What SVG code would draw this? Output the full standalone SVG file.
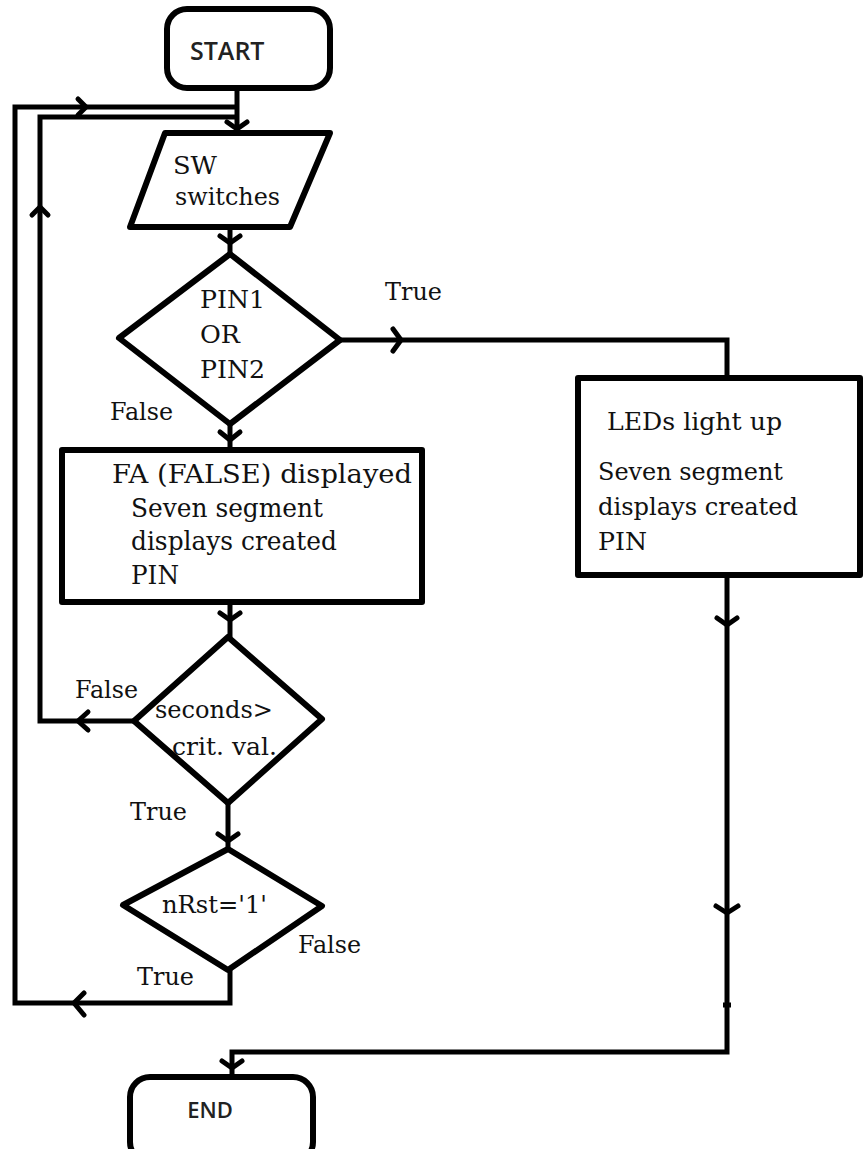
<svg xmlns="http://www.w3.org/2000/svg" width="863" height="1149" viewBox="0 0 863 1149">
<style>
.shape{fill:#fff;stroke:#000;stroke-width:6;stroke-linejoin:round}
.ln{fill:none;stroke:#000;stroke-width:5;stroke-linejoin:miter}
.chev{fill:none;stroke:#000;stroke-width:5;stroke-linecap:round;stroke-linejoin:round}
.t{font-family:'DejaVu Serif','Liberation Serif',serif;font-size:25px;fill:#111}
.b{font-size:26px}
.s{font-family:'Open Sans','Liberation Sans',sans-serif;font-weight:600;fill:#222}
</style>
<rect width="863" height="1149" fill="#fff"/>
<g id="connectors">
  <path class="ln" d="M237,88 L237,133"/>
  <path class="ln" d="M230,970 L230,1003 L15,1003 L15,107 L237,107"/>
  <path class="ln" d="M134,721 L40,721 L40,117 L237,117"/>
  <path class="ln" d="M230,227 L230,254"/>
  <path class="ln" d="M230,424 L230,450"/>
  <path class="ln" d="M230,602 L230,637"/>
  <path class="ln" d="M228,803 L228,849"/>
  <path class="ln" d="M340,340 L727,340 L727,378"/>
  <path class="ln" d="M727,575 L727,1052 L232,1052 L232,1077"/>
  <polyline class="chev" points="78,99 86,107 78,115"/>
  <polyline class="chev" points="227,122 237,129 247,122"/>
  <polyline class="chev" points="32,215 40,207 48,215"/>
  <polyline class="chev" points="220,236 230,243 240,236"/>
  <polyline class="chev" points="393,329 401,340 393,351"/>
  <polyline class="chev" points="220,432 230,440 240,432"/>
  <polyline class="chev" points="220,613 230,620 240,613"/>
  <polyline class="chev" points="88,712 78,721 88,730"/>
  <polyline class="chev" points="218,834 228,841 238,834"/>
  <polyline class="chev" points="84,993 74,1003 84,1015"/>
  <polyline class="chev" points="717,618 727,625 737,618"/>
  <polyline class="chev" points="716,906 727,913 738,906"/>
  <polyline class="chev" points="222,1061 232,1068 242,1061"/>
  <line x1="723" y1="1005" x2="731" y2="1005" stroke="#000" stroke-width="5"/>
</g>
<g id="start">
  <rect class="shape" x="167" y="9" width="163" height="79" rx="20"/>
  <text class="s" x="190" y="60" font-size="25">START</text>
</g>
<g id="input">
  <polygon class="shape" points="165,133 330,133 290,227 130,227"/>
  <text class="t" x="173" y="174" textLength="44" lengthAdjust="spacingAndGlyphs">SW</text>
  <text class="t" x="175" y="205" textLength="105" lengthAdjust="spacingAndGlyphs">switches</text>
</g>
<g id="decision1">
  <polygon class="shape" points="230,254 340,340 230,424 119,338"/>
  <text class="t" x="200" y="308" textLength="65" lengthAdjust="spacingAndGlyphs">PIN1</text>
  <text class="t" x="200" y="343" textLength="40" lengthAdjust="spacingAndGlyphs">OR</text>
  <text class="t" x="200" y="378" textLength="65" lengthAdjust="spacingAndGlyphs">PIN2</text>
  <text class="t" x="110" y="420" textLength="63" lengthAdjust="spacingAndGlyphs">False</text>
  <text class="t" x="385" y="300" textLength="57" lengthAdjust="spacingAndGlyphs">True</text>
</g>
<g id="led-box">
  <rect class="shape" x="578" y="378" width="282" height="197"/>
  <text class="t" x="607" y="430" textLength="175" lengthAdjust="spacingAndGlyphs">LEDs light up</text>
  <text class="t" x="598" y="480" textLength="185" lengthAdjust="spacingAndGlyphs">Seven segment</text>
  <text class="t" x="598" y="515" textLength="200" lengthAdjust="spacingAndGlyphs">displays created</text>
  <text class="t" x="598" y="550" textLength="49" lengthAdjust="spacingAndGlyphs">PIN</text>
</g>
<g id="fa-box">
  <rect class="shape" x="62" y="450" width="360" height="152"/>
  <text class="t b" x="112" y="483" textLength="300" lengthAdjust="spacingAndGlyphs">FA (FALSE) displayed</text>
  <text class="t b" x="131" y="517" textLength="192" lengthAdjust="spacingAndGlyphs">Seven segment</text>
  <text class="t b" x="131" y="550" textLength="206" lengthAdjust="spacingAndGlyphs">displays created</text>
  <text class="t b" x="131" y="584" textLength="48" lengthAdjust="spacingAndGlyphs">PIN</text>
</g>
<g id="decision2">
  <polygon class="shape" points="228,637 322,719 228,803 134,721"/>
  <text class="t" x="155" y="718" textLength="118" lengthAdjust="spacingAndGlyphs">seconds&gt;</text>
  <text class="t" x="172" y="755" textLength="105" lengthAdjust="spacingAndGlyphs">crit. val.</text>
  <text class="t" x="75" y="698" textLength="63" lengthAdjust="spacingAndGlyphs">False</text>
  <text class="t" x="130" y="820" textLength="57" lengthAdjust="spacingAndGlyphs">True</text>
</g>
<g id="decision3">
  <polygon class="shape" points="228,849 322,906 228,970 123,905"/>
  <text class="t" x="162" y="913" textLength="105" lengthAdjust="spacingAndGlyphs">nRst='1'</text>
  <text class="t" x="298" y="953" textLength="63" lengthAdjust="spacingAndGlyphs">False</text>
  <text class="t" x="137" y="985" textLength="57" lengthAdjust="spacingAndGlyphs">True</text>
</g>
<g id="end">
  <rect class="shape" x="130" y="1077" width="183" height="85" rx="20"/>
  <text class="s" x="210" y="1118" font-size="22" font-weight="700" text-anchor="middle">END</text>
</g>
</svg>
